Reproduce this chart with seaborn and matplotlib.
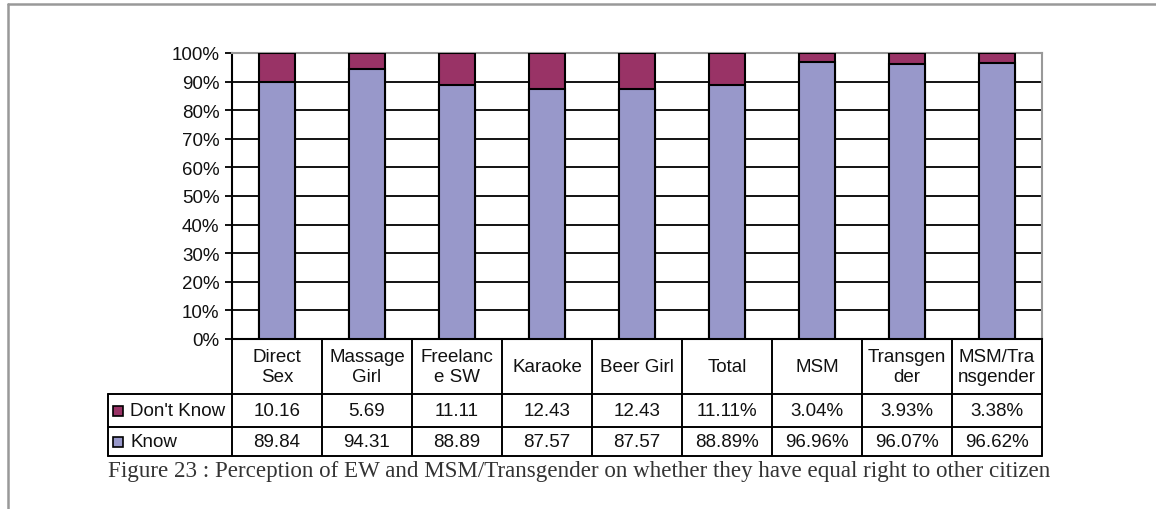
import matplotlib
matplotlib.use("Agg")
import matplotlib.pyplot as plt
import matplotlib.transforms as mtrans
from matplotlib.lines import Line2D
from matplotlib.patches import Rectangle
import seaborn as sns
import pandas as pd

categories = ["Direct\nSex", "Massage\nGirl", "Freelanc\ne SW", "Karaoke", "Beer Girl",
              "Total", "MSM", "Transgen\nder", "MSM/Tra\nnsgender"]
dont_know = [10.16, 5.69, 11.11, 12.43, 12.43, 11.11, 3.04, 3.93, 3.38]
know = [89.84, 94.31, 88.89, 87.57, 87.57, 88.89, 96.96, 96.07, 96.62]
pct_suffix = [False, False, False, False, False, True, True, True, True]
yticks = [0, 10, 20, 30, 40, 50, 60, 70, 80, 90, 100]
caption = "Figure 23 : Perception of EW and MSM/Transgender on whether they have equal right to other citizen"

KNOW_C = "#9898CA"
DK_C = "#993366"

sns.set_theme(style="white")
plt.rcParams["font.family"] = ["Liberation Sans", "DejaVu Sans"]

W, H = 1156, 510
fig = plt.figure(figsize=(W / 100, H / 100), dpi=100)
L, R, T, B = 232, 1042, 54, 340
ax = fig.add_axes([L / W, 1 - B / H, (R - L) / W, (B - T) / H])

df = pd.DataFrame({"cat": categories, "know": know,
                   "total": [k + d for k, d in zip(know, dont_know)]})
sns.barplot(data=df, x="cat", y="total", color=DK_C, saturation=1, width=0.41,
            edgecolor="black", linewidth=1.5, ax=ax, zorder=3)
sns.barplot(data=df, x="cat", y="know", color=KNOW_C, saturation=1, width=0.41,
            edgecolor="black", linewidth=1.5, ax=ax, zorder=4)

n = len(categories)
ax.set_xlim(-0.5, n - 0.5)
ax.set_ylim(0, 100)
ax.set_yticks(yticks)
ax.set_yticklabels([f"{t}%" for t in yticks], fontsize=13.5, color="#111111")
ax.set_xticks([])
ax.set_xlabel("")
ax.set_ylabel("")
ax.yaxis.grid(True, color="black", linewidth=1.3, zorder=0)
ax.set_axisbelow(True)
ax.tick_params(axis="y", length=5, width=1.3, color="black", pad=4, left=True)
for s in ["top", "right"]:
    ax.spines[s].set_color("#999999")
    ax.spines[s].set_linewidth(1.5)
for s in ["left", "bottom"]:
    ax.spines[s].set_color("black")
    ax.spines[s].set_linewidth(1.5)

# data table below the chart
tr = mtrans.blended_transform_factory(ax.transData, ax.transAxes)
ph = B - T
def ay(py):
    return (B - py) / ph

y_h0, y_h1, y_r1, y_r2 = ay(340), ay(395), ay(428), ay(457)
leg_left = -0.5 - (L - 108) / ((R - L) / n)
lw = 1.4
def line(xs, ys):
    ax.add_line(Line2D(xs, ys, transform=tr, color="black", lw=lw, clip_on=False))

# header verticals
for i in range(n + 1):
    line([i - 0.5, i - 0.5], [y_h0, y_r2])
line([leg_left, leg_left], [y_h1, y_r2])
line([leg_left, n - 0.5], [y_h1, y_h1])
line([leg_left, n - 0.5], [y_r1, y_r1])
line([leg_left, n - 0.5], [y_r2, y_r2])

fs = 13.5
for i, c in enumerate(categories):
    ax.text(i, (y_h0 + y_h1) / 2, c, transform=tr, ha="center", va="center",
            fontsize=fs, color="#111111", linespacing=1.3, clip_on=False)
    sfx = "%" if pct_suffix[i] else ""
    ax.text(i, (y_h1 + y_r1) / 2, f"{dont_know[i]:.2f}{sfx}", transform=tr, ha="center",
            va="center", fontsize=fs, color="#111111", clip_on=False)
    ax.text(i, (y_r1 + y_r2) / 2, f"{know[i]:.2f}{sfx}", transform=tr, ha="center",
            va="center", fontsize=fs, color="#111111", clip_on=False)

# legend entries in table
sw = 10 / ((R - L) / n)
for (label, col, y0, y1) in [("Don't Know", DK_C, y_h1, y_r1), ("Know", KNOW_C, y_r1, y_r2)]:
    ym = (y0 + y1) / 2
    hh = 10 / ph
    x0 = leg_left + 5 / ((R - L) / n)
    ax.add_patch(Rectangle((x0, ym - hh / 2), sw, hh, transform=tr, facecolor=col,
                           edgecolor="black", lw=1.2, clip_on=False))
    ax.text(x0 + sw + 7 / ((R - L) / n), ym, label, transform=tr, ha="left", va="center",
            fontsize=fs, color="#111111", clip_on=False)

# outer frame
fig.add_artist(Line2D([8 / W, 1.0], [1 - 5 / H, 1 - 5 / H], transform=fig.transFigure,
                      color="#999999", lw=1.8))
fig.add_artist(Line2D([8 / W, 8 / W], [0, 1 - 5 / H], transform=fig.transFigure,
                      color="#999999", lw=1.8))

fig.text(108 / W, 1 - 471 / H, caption, ha="left", va="center", fontsize=16.6,
         family=["Liberation Serif", "DejaVu Serif"], color="#333333")

fig.savefig("out.png", dpi=100)
